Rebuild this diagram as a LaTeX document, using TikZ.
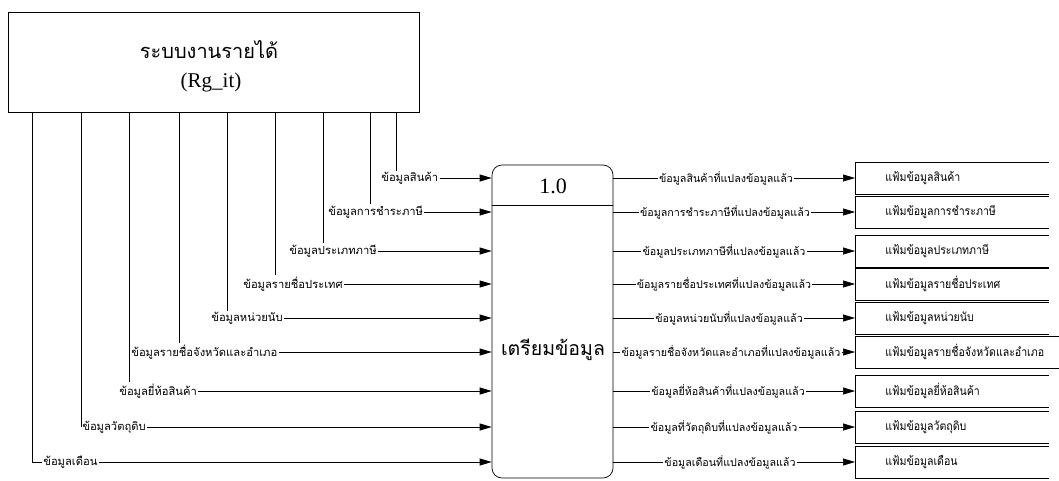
\documentclass[tikz,border=0pt]{standalone}
\usepackage{fontspec}
\setmainfont{Liberation Serif}
\newfontfamily\thaifont[Script=Thai]{Loma}
\newfontfamily\thaicond[Script=Thai,FakeStretch=0.88]{Loma}
\usetikzlibrary{arrows.meta}
\begin{document}
\begin{tikzpicture}[x=1pt,y=-1pt,line width=0.7pt,
  lbl/.style={font=\thaifont\fontsize{11.2}{12}\selectfont,inner sep=1pt},
  olbl/.style={font=\thaifont\fontsize{10.7}{12}\selectfont,inner sep=1pt},
  stxt/.style={font=\thaicond\fontsize{12}{13}\selectfont,inner sep=0pt,anchor=west},
  flow/.style={-{Triangle[length=12pt,width=7pt]}},
  store/.style={minimum height=31pt,inner sep=0pt,anchor=west}]
\useasboundingbox (0,0) rectangle (1059,480);
% external entity
\node[draw,minimum width=411pt,minimum height=100pt,inner sep=0pt] (sys) at (213.5,62) {};
\node[font=\thaifont\fontsize{20}{22}\selectfont,inner sep=0pt] (systh) at (209,50) {ระบบงานรายได้};
\node[font=\fontsize{21}{23}\selectfont,inner sep=0pt] (sysen) at (211,82) {(Rg\_it)};
% process
\node[draw,rounded corners=10pt,minimum width=121pt,minimum height=313pt,inner sep=0pt] (proc) at (552.5,321.5) {};
\coordinate (divl) at (492,205);
\coordinate (divr) at (613,205);
\draw (divl) -- (divr);
\node[font=\fontsize{22}{24}\selectfont,inner sep=0pt] (pid) at (553,186) {1.0};
\node[font=\thaifont\fontsize{19.5}{22}\selectfont,inner sep=0pt] (pname) at (553,350) {เตรียมข้อมูล};
% input labels
\node[lbl,anchor=west] (in1) at (380,178) {ข้อมูลสินค้า};
\node[lbl,anchor=west] (in2) at (327,212) {ข้อมูลการชำระภาษี};
\node[lbl,anchor=west] (in3) at (288,251) {ข้อมูลประเภทภาษี};
\node[lbl,anchor=west] (in4) at (242,284) {ข้อมูลรายชื่อประเทศ};
\node[lbl,anchor=west] (in5) at (210,318) {ข้อมูลหน่วยนับ};
\node[lbl,anchor=west] (in6) at (130,352) {ข้อมูลรายชื่อจังหวัดและอำเภอ};
\node[lbl,anchor=west] (in7) at (118,391) {ข้อมูลยี่ห้อสินค้า};
\node[lbl,anchor=west] (in8) at (81,427) {ข้อมูลวัตถุดิบ};
\node[lbl,anchor=west] (in9) at (42,462) {ข้อมูลเดือน};
% vertical feeders
\draw (sys.south -| 396,0) -- (in1.north -| 396,0);
\draw (sys.south -| 370,0) -- (in2.north -| 370,0);
\draw (sys.south -| 323,0) -- (in3.north -| 323,0);
\draw (sys.south -| 275,0) -- (in4.north -| 275,0);
\draw (sys.south -| 227,0) -- (in5.north -| 227,0);
\draw (sys.south -| 179,0) -- (in6.north -| 179,0);
\draw (sys.south -| 129,0) -- (in7.north -| 129,0);
\draw (sys.south -| 81,0) -- (in8.west);
\draw (sys.south -| 32,0) |- (in9.west);
% input arrows
\foreach \i in {1,...,9}{
  \draw[flow] (in\i.east) -- (in\i.east -| proc.west);
}
% output labels
\node[olbl] (out1) at (726,178) {ข้อมูลสินค้าที่แปลงข้อมูลแล้ว};
\node[olbl] (out2) at (725,212) {ข้อมูลการชำระภาษีที่แปลงข้อมูลแล้ว};
\node[olbl] (out3) at (724,251) {ข้อมูลประเภทภาษีที่แปลงข้อมูลแล้ว};
\node[olbl] (out4) at (724,284) {ข้อมูลรายชื่อประเทศที่แปลงข้อมูลแล้ว};
\node[olbl] (out5) at (729,318) {ข้อมูลหน่วยนับที่แปลงข้อมูลแล้ว};
\node[olbl] (out6) at (731,352) {ข้อมูลรายชื่อจังหวัดและอำเภอที่แปลงข้อมูลแล้ว};
\node[olbl] (out7) at (728,391) {ข้อมูลยี่ห้อสินค้าที่แปลงข้อมูลแล้ว};
\node[olbl] (out8) at (724,427) {ข้อมูลที่วัตถุดิบที่แปลงข้อมูลแล้ว};
\node[olbl] (out9) at (730,462) {ข้อมูลเดือนที่แปลงข้อมูลแล้ว};
% stores
\foreach \i/\y/\w in {1/178/193,2/212/193,3/251/193,4/284/193,5/318/193,6/352/204,7/391/193,8/427/193,9/462/193}{
  \node[store,minimum width=\w pt] (s\i) at (855,\y) {};
  \draw (s\i.north east) -- (s\i.north west) -- (s\i.south west) -- (s\i.south east);
  \draw (proc.east |- out\i) -- (out\i.west);
  \draw[flow] (out\i.east) -- (s\i.west);
}
\node[stxt] (t1) at (885,178) {แฟ้มข้อมูลสินค้า};
\node[stxt] (t2) at (885,212) {แฟ้มข้อมูลการชำระภาษี};
\node[stxt] (t3) at (885,251) {แฟ้มข้อมูลประเภทภาษี};
\node[stxt] (t4) at (885,284) {แฟ้มข้อมูลรายชื่อประเทศ};
\node[stxt] (t5) at (885,318) {แฟ้มข้อมูลหน่วยนับ};
\node[stxt] (t6) at (885,352) {แฟ้มข้อมูลรายชื่อจังหวัดและอำเภอ};
\node[stxt] (t7) at (885,391) {แฟ้มข้อมูลยี่ห้อสินค้า};
\node[stxt] (t8) at (885,427) {แฟ้มข้อมูลวัตถุดิบ};
\node[stxt] (t9) at (885,462) {แฟ้มข้อมูลเดือน};
\end{tikzpicture}
\end{document}
